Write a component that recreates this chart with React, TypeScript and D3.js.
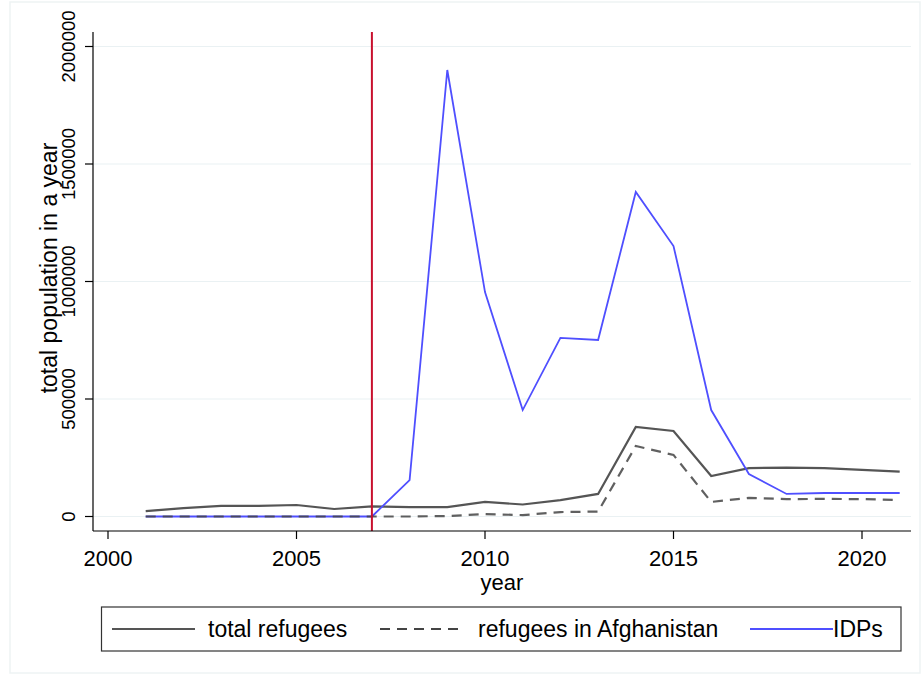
import React from "react";
import * as d3 from "d3";

const years = [2001,2002,2003,2004,2005,2006,2007,2008,2009,2010,2011,2012,2013,2014,2015,2016,2017,2018,2019,2020,2021];
const totalRefugees = [23000,36000,45000,45000,49000,32000,43000,40000,40000,62000,51000,70000,96000,381000,364000,172000,206000,208000,206000,198000,191000];
const refugeesAfg = [0,0,0,0,0,0,0,0,2000,10000,6000,19000,21000,300000,262000,62000,79000,74000,75000,74000,70000];
const idps = [0,0,0,0,0,0,0,155000,1900000,955000,453000,760000,751000,1381000,1151000,453000,181000,96000,100000,100000,100000];
const xTicks = [2000,2005,2010,2015,2020];
const yTicks = [0,500000,1000000,1500000,2000000];
const legendLabels = ["total refugees","refugees in Afghanistan","IDPs"];
const eventYear = 2007;

export default function App() {
  const W = 924, H = 677;
  const x = d3.scaleLinear().domain([2000, 2020]).range([108, 862]);
  const y = d3.scaleLinear().domain([0, 2000000]).range([516.5, 46.5]);
  const left = 93, right = 911, bottom = 531, top = 32;
  const line = (vals: number[]) =>
    d3.line<number>().x((_, i) => x(years[i])).y((v) => y(v))(vals) || "";
  const font = "'Liberation Sans', Arial, sans-serif";
  return (
    <svg width={W} height={H} style={{ position: "absolute", left: 0, top: 0, background: "#fff" }} fontFamily={font}>
      <rect x={10} y={2} width={W - 14} height={H - 6} fill="none" stroke="#eef3f4" strokeWidth={1.5} />
      {yTicks.map((t) => (
        <line key={"g" + t} x1={left} x2={right} y1={y(t)} y2={y(t)} stroke="#eaf1f3" strokeWidth={1.2} />
      ))}
      {/* lines */}
      <path d={line(totalRefugees)} fill="none" stroke="#555555" strokeWidth={2.2} />
      <path d={line(idps)} fill="none" stroke="#4f4fff" strokeWidth={1.8} />
      <path d={line(refugeesAfg)} fill="none" stroke="#444444" strokeOpacity={0.85} strokeWidth={2.2} strokeDasharray="10,7" />
      <line x1={x(eventYear)} x2={x(eventYear)} y1={top} y2={bottom} stroke="#c8102e" strokeWidth={2} />
      {/* axes */}
      <line x1={left} x2={left} y1={top} y2={bottom} stroke="#000" strokeWidth={1.2} />
      <line x1={left} x2={right} y1={bottom} y2={bottom} stroke="#000" strokeWidth={1.2} />
      {yTicks.map((t) => (
        <g key={"y" + t}>
          <line x1={left - 8} x2={left} y1={y(t)} y2={y(t)} stroke="#000" strokeWidth={1.2} />
          <text transform={`translate(75,${y(t)}) rotate(-90)`} textAnchor="middle" fontSize={18.5} fill="#000">
            {t}
          </text>
        </g>
      ))}
      {xTicks.map((t) => (
        <g key={"x" + t}>
          <line x1={x(t)} x2={x(t)} y1={bottom} y2={bottom + 8} stroke="#000" strokeWidth={1.2} />
          <text x={x(t)} y={566} textAnchor="middle" fontSize={22} fill="#000">
            {t}
          </text>
        </g>
      ))}
      <text x={502} y={590} textAnchor="middle" fontSize={22} fill="#000">year</text>
      <text transform={`translate(57,268) rotate(-90)`} textAnchor="middle" fontSize={23} fill="#000">
        total population in a year
      </text>
      {/* legend */}
      <rect x={101.5} y={607} width={799.5} height={44} fill="#fff" stroke="#333" strokeWidth={1.2} />
      <line x1={112} x2={195} y1={629} y2={629} stroke="#555555" strokeWidth={2.2} />
      <text x={208} y={637} fontSize={23} fill="#000">{legendLabels[0]}</text>
      <line x1={380} x2={463} y1={629} y2={629} stroke="#444444" strokeWidth={2.2} strokeDasharray="10,7" />
      <text x={478} y={637} fontSize={23} fill="#000">{legendLabels[1]}</text>
      <line x1={750} x2={833} y1={629} y2={629} stroke="#4f4fff" strokeWidth={1.8} />
      <text x={833} y={637} fontSize={23} fill="#000">{legendLabels[2]}</text>
    </svg>
  );
}
